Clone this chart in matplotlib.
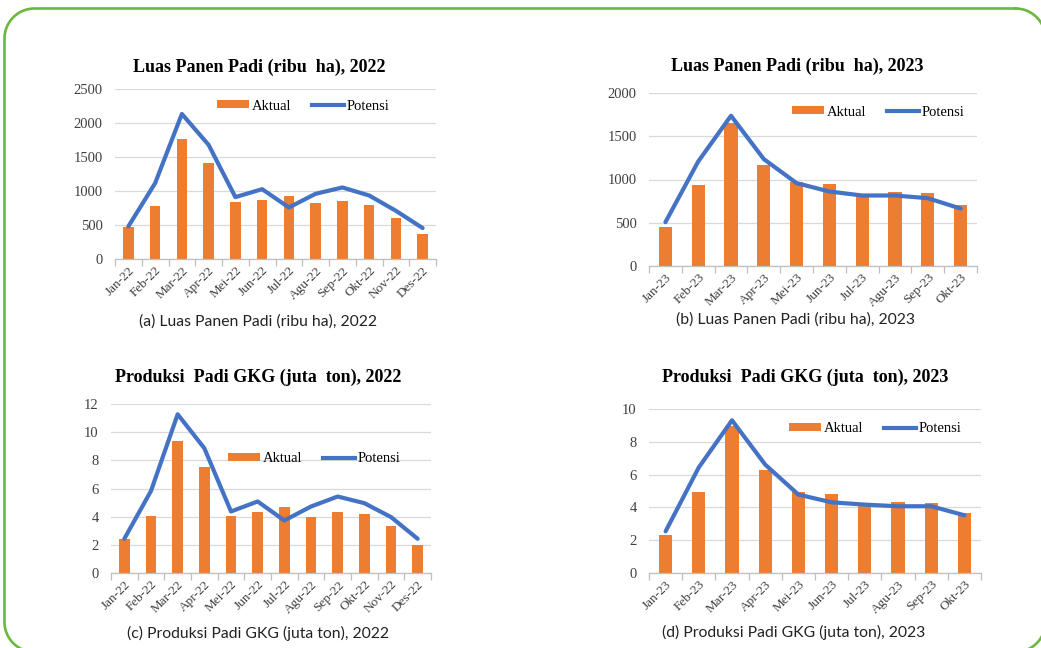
import matplotlib
matplotlib.use("Agg")
import matplotlib.pyplot as plt
from matplotlib.patches import Patch
from matplotlib.lines import Line2D
import numpy as np

W, H = 1041, 648

months_22 = ["Jan-22", "Feb-22", "Mar-22", "Apr-22", "Mei-22", "Jun-22",
             "Jul-22", "Agu-22", "Sep-22", "Okt-22", "Nov-22", "Des-22"]
months_23 = ["Jan-23", "Feb-23", "Mar-23", "Apr-23", "Mei-23",
             "Jun-23", "Jul-23", "Agu-23", "Sep-23", "Okt-23"]

luas_aktual_22 = [465, 773, 1766, 1419, 832, 871, 925, 822, 846, 797, 602, 362]
luas_potensi_22 = [480, 1115, 2133, 1678, 910, 1027, 758, 959, 1052, 934, 709, 455]
luas_aktual_23 = [452, 942, 1653, 1170, 969, 950, 822, 861, 842, 703]
luas_potensi_23 = [506, 1208, 1737, 1236, 958, 861, 815, 815, 784, 664]

prod_aktual_22 = [2.41, 4.06, 9.38, 7.51, 4.06, 4.35, 4.72, 3.97, 4.35, 4.16, 3.31, 1.96]
prod_potensi_22 = [2.43, 5.83, 11.27, 8.86, 4.37, 5.08, 3.73, 4.72, 5.43, 4.96, 3.97, 2.43]
prod_aktual_23 = [2.30, 4.94, 8.94, 6.30, 4.94, 4.84, 4.17, 4.35, 4.27, 3.66]
prod_potensi_23 = [2.54, 6.44, 9.31, 6.61, 4.78, 4.31, 4.17, 4.07, 4.07, 3.52]

ORANGE = "#ED7D31"
BLUE = "#4472C4"
SERIF = "Liberation Serif"
CAPTION = "Lato"


def fx(x):
    return x / W


def fy(y):
    return 1 - y / H


def box(l, t, r, b):
    return [fx(l), fy(b), (r - l) / W, (b - t) / H]


fig = plt.figure(figsize=(W / 100, H / 100), dpi=100)
fig.patch.set_facecolor("white")

# rounded green frame, in pixels; right and bottom edges fall outside the image
l, t, r, b, rad = 4.5, 8.5, 1045.5, 652, 30
pts = []
for cx, cy, a0 in [(r - rad, t + rad, -90), (r - rad, b - rad, 0),
                   (l + rad, b - rad, 90), (l + rad, t + rad, 180)]:
    a = np.radians(np.linspace(a0, a0 + 90, 30))
    pts += list(zip(cx + rad * np.cos(a), cy + rad * np.sin(a)))
pts.append(pts[0])
px, py = zip(*pts)
fig.add_artist(Line2D([fx(v) for v in px], [fy(v) for v in py],
                      transform=fig.transFigure, color="#6BB83E",
                      linewidth=1.9, clip_on=False))


def panel(rect, labels, aktual, potensi, ymax, step, title, title_xy,
          caption, caption_xy, leg_xy):
    ax = fig.add_axes(rect)
    x = np.arange(len(labels))
    ax.bar(x, aktual, width=0.4, color=ORANGE, zorder=2)
    ax.plot(x, potensi, color=BLUE, linewidth=3, solid_capstyle="round",
            solid_joinstyle="round", zorder=3)
    ax.set_xlim(-0.5, len(labels) - 0.5)
    ax.set_ylim(0, ymax)
    ax.set_yticks(np.arange(0, ymax + step / 2, step))
    ax.yaxis.grid(True, color="#D9D9D9", linewidth=0.9, zorder=0)
    ax.set_axisbelow(True)
    for s in ["top", "right", "left"]:
        ax.spines[s].set_visible(False)
    ax.spines["bottom"].set_color("#BFBFBF")
    ax.spines["bottom"].set_linewidth(0.9)
    ax.set_xticks(x)
    ax.set_xticklabels(labels, rotation=45, ha="right", rotation_mode="anchor",
                       family=SERIF, fontsize=9.5, color="#404040")
    ax.tick_params(axis="x", length=0, pad=4)
    ax.set_xticks(np.arange(-0.5, len(labels)), minor=True)
    ax.tick_params(axis="x", which="minor", length=5, color="#BFBFBF", width=0.9)
    ax.tick_params(axis="y", length=0, pad=9)
    for tl in ax.get_yticklabels():
        tl.set_family(SERIF)
        tl.set_fontsize(10.5)
        tl.set_color("#404040")
    handles = [Patch(facecolor=ORANGE, edgecolor="none"),
               Line2D([0], [0], color=BLUE, linewidth=3)]
    fig.legend(handles, ["Aktual", "Potensi"], loc="center",
               bbox_to_anchor=(fx(leg_xy[0]), fy(leg_xy[1])), ncol=2,
               frameon=False, prop={"family": SERIF, "size": 10.5},
               handlelength=2.2, handleheight=0.45, handletextpad=0.2,
               columnspacing=1.4)
    fig.text(fx(title_xy[0]), fy(title_xy[1]), title, family=SERIF,
             fontweight="bold", fontsize=13, ha="center", va="center")
    fig.text(fx(caption_xy[0]), fy(caption_xy[1]), caption, family=CAPTION,
             fontsize=11.3, ha="center", va="center", color="#222222")
    return ax


panel(box(115, 89, 436, 259), months_22, luas_aktual_22, luas_potensi_22,
      2500, 500, "Luas Panen Padi (ribu  ha), 2022", (259, 67),
      "(a) Luas Panen Padi (ribu ha), 2022", (258, 322), (303, 106))
panel(box(649, 93, 977, 266), months_23, luas_aktual_23, luas_potensi_23,
      2000, 500, "Luas Panen Padi (ribu  ha), 2023", (797, 66),
      "(b) Luas Panen Padi (ribu ha), 2023", (796, 320), (878, 112))
panel(box(111, 404, 431, 573), months_22, prod_aktual_22, prod_potensi_22,
      12, 2, "Produksi  Padi GKG (juta  ton), 2022", (258, 377),
      "(c) Produksi Padi GKG (juta ton), 2022", (258, 633), (314, 459))
panel(box(649, 409, 981, 573), months_23, prod_aktual_23, prod_potensi_23,
      10, 2, "Produksi  Padi GKG (juta  ton), 2023", (805, 377),
      "(d) Produksi Padi GKG (juta ton), 2023", (794, 632), (875, 429))

fig.savefig("out.png", dpi=100)
